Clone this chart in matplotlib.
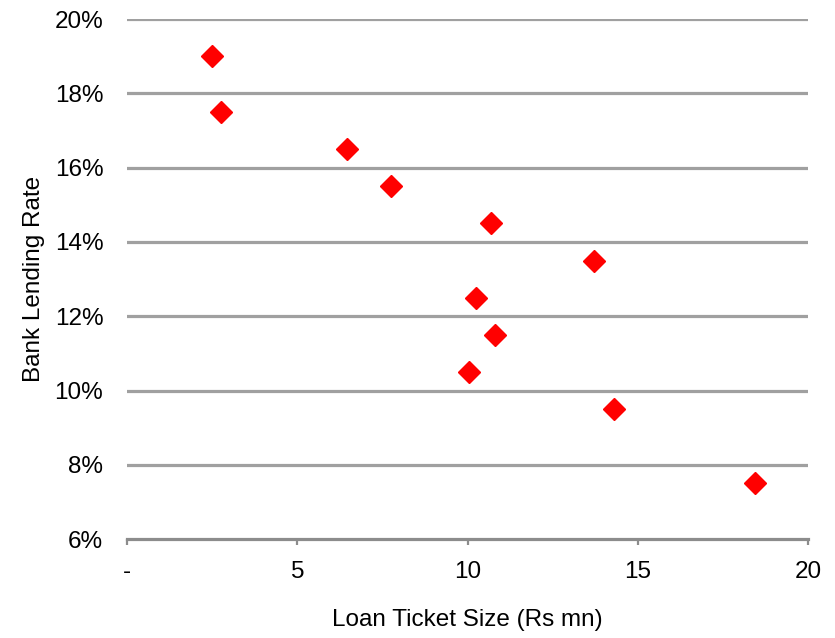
import numpy as np
import matplotlib
matplotlib.use('Agg')
from matplotlib import pyplot as plt
from matplotlib.ticker import FuncFormatter

# loan ticket size (Rs mn) vs bank lending rate (%)
ticket_size = [2.5, 2.75, 6.45, 7.75, 10.7, 13.7, 10.25, 10.8, 10.05, 14.3, 18.45]
lending_rate = [19.0, 17.5, 16.5, 15.5, 14.5, 13.5, 12.5, 11.5, 10.5, 9.5, 7.5]

x_ticks = [0, 5, 10, 15, 20]
y_ticks = [6, 8, 10, 12, 14, 16, 18, 20]

plt.rcParams['font.family'] = ['Liberation Sans', 'DejaVu Sans']

fig = plt.figure(figsize=(8.35, 6.38), dpi=100)
ax = fig.add_axes([0.152, 0.155, 0.816, 0.815])

ax.plot(ticket_size, lending_rate, linestyle='none', marker='D',
        markersize=11, color='#FF0000', zorder=3)

ax.set_xlim(0, 20)
ax.set_ylim(6, 20)
ax.set_xticks(x_ticks)
ax.set_yticks(y_ticks)
ax.xaxis.set_major_formatter(FuncFormatter(lambda v, p: '-' if v == 0 else '%d' % v))
ax.yaxis.set_major_formatter(FuncFormatter(lambda v, p: '%d%%' % v))

for y in y_ticks[1:]:
    ax.axhline(y, color='#A0A0A0', linewidth=2.3, zorder=1)

for s in ['top', 'right', 'left']:
    ax.spines[s].set_visible(False)
ax.spines['bottom'].set_color('#8C8C8C')
ax.spines['bottom'].set_linewidth(2.3)

ax.tick_params(axis='x', direction='out', length=4.5, width=1.6,
               color='#8C8C8C', labelsize=17.5, pad=11)
ax.tick_params(axis='y', length=0, labelsize=17.5, pad=17)

ax.set_xlabel('Loan Ticket Size (Rs mn)', fontsize=17.5, labelpad=19)
ax.set_ylabel('Bank Lending Rate', fontsize=17.5, labelpad=7)

plt.savefig('out.png', dpi=100)
